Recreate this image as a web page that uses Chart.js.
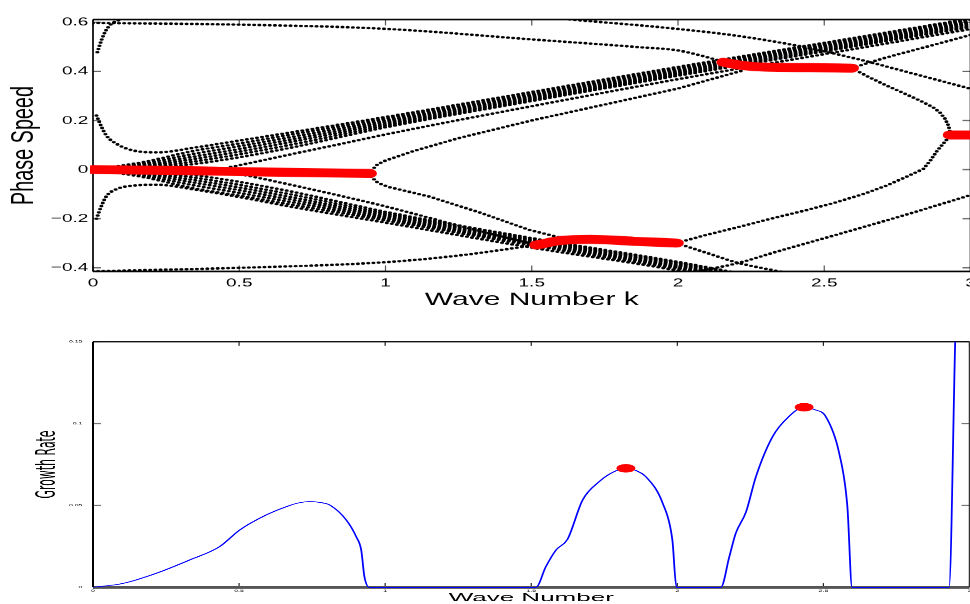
<!DOCTYPE html>
<html><head><meta charset="utf-8">
<script src="https://cdn.jsdelivr.net/npm/chart.js@4"></script>
<style>
html,body{margin:0;padding:0;background:#fff;width:970px;height:604px;overflow:hidden;position:relative}
.wrap{position:absolute;left:0;transform-origin:0 0}
#w1{top:0;transform:scaleY(0.62)}
#w2{top:320px;transform:scaleY(0.45)}
canvas{display:block}
</style></head><body>
<div id="w1" class="wrap"><canvas id="c1" width="990" height="520"></canvas></div>
<div id="w2" class="wrap"><canvas id="c2" width="990" height="631"></canvas></div>
<script>
// ---------- tick values / labels ----------
const kTicks = [0, 0.5, 1, 1.5, 2, 2.5, 3];
const kTickLabels = ['0', '0.5', '1', '1.5', '2', '2.5', '3'];
const cTicks = [-0.4, -0.2, 0, 0.2, 0.4, 0.6];
const cTickLabels = ['\u22120.4', '\u22120.2', '0', '0.2', '0.4', '0.6'];
const gTicks = [0, 0.05, 0.1, 0.15];
const gTickLabels = ['0', '0.05', '0.1', '0.15'];

// ---------- top panel: phase speed curves [k, c] ----------
const outerUp = [[0.012,0.22],[0.03,0.172],[0.046,0.138],[0.08,0.105],[0.14,0.077],[0.22,0.07],[0.35,0.09],[0.5,0.118],[0.68,0.152],[1.0,0.214],[1.5,0.316],[2.0,0.418],[2.5,0.516],[3.0,0.615]];
const bandUp1 = [[0,0],[0.17,0.03],[0.34,0.075],[0.5,0.106],[0.68,0.143],[1.0,0.207],[1.5,0.309],[2.0,0.412],[2.5,0.511],[3.0,0.61]];
const bandUp2 = [[0,0],[0.17,0.024],[0.34,0.063],[0.5,0.095],[0.68,0.133],[1.0,0.2],[1.5,0.303],[2.0,0.406],[2.5,0.505],[3.0,0.604]];
const bandUp3 = [[0,0],[0.17,0.018],[0.34,0.052],[0.5,0.084],[0.68,0.123],[1.0,0.193],[1.5,0.297],[2.0,0.4],[2.5,0.499],[3.0,0.598]];
const bandUp4 = [[0,0],[0.17,0.013],[0.34,0.042],[0.5,0.073],[0.68,0.113],[1.0,0.186],[1.5,0.291],[2.0,0.394],[2.5,0.493],[3.0,0.592]];
const bandUp5 = [[0,0],[0.17,0.008],[0.34,0.032],[0.5,0.062],[0.68,0.102],[1.0,0.179],[1.5,0.285],[2.0,0.388],[2.5,0.487],[3.0,0.586]];
const bandUp6 = [[0,0],[0.17,0.005],[0.34,0.022],[0.5,0.05],[0.68,0.09],[1.0,0.172],[1.5,0.279],[2.0,0.382],[2.5,0.481],[3.0,0.58]];
const innerUp = [[0.42,-0.002],[0.55,0.03],[0.7,0.068],[0.85,0.105],[1.0,0.143],[1.5,0.258],[2.0,0.368],[2.5,0.47],[3.0,0.572]];

const outerDn = [[0.012,-0.2],[0.03,-0.145],[0.046,-0.108],[0.08,-0.08],[0.14,-0.065],[0.22,-0.062],[0.35,-0.082],[0.5,-0.112],[0.68,-0.152],[1.0,-0.216],[1.5,-0.318],[2.0,-0.412],[2.05,-0.425]];
const bandDn1 = [[0,0],[0.17,-0.03],[0.34,-0.075],[0.5,-0.106],[0.68,-0.143],[1.0,-0.207],[1.5,-0.309],[2.0,-0.405],[2.1,-0.425]];
const bandDn2 = [[0,0],[0.17,-0.024],[0.34,-0.063],[0.5,-0.095],[0.68,-0.133],[1.0,-0.2],[1.5,-0.303],[2.0,-0.399],[2.12,-0.425]];
const bandDn3 = [[0,0],[0.17,-0.018],[0.34,-0.052],[0.5,-0.084],[0.68,-0.123],[1.0,-0.193],[1.5,-0.297],[2.0,-0.393],[2.15,-0.425]];
const bandDn4 = [[0,0],[0.17,-0.013],[0.34,-0.042],[0.5,-0.073],[0.68,-0.113],[1.0,-0.186],[1.5,-0.291],[2.0,-0.387],[2.17,-0.425]];
const bandDn5 = [[0,0],[0.17,-0.008],[0.34,-0.032],[0.5,-0.062],[0.68,-0.102],[1.0,-0.179],[1.5,-0.285],[2.0,-0.381],[2.2,-0.425]];
const bandDn6 = [[0,0],[0.17,-0.005],[0.34,-0.022],[0.5,-0.05],[0.68,-0.09],[1.0,-0.172],[1.5,-0.279],[2.0,-0.376],[2.22,-0.425]];
const innerDn = [[0.42,0.002],[0.55,-0.03],[0.7,-0.068],[0.85,-0.108],[1.0,-0.15],[1.25,-0.228],[1.516,-0.307]];

const branchUp = [[0.946,-0.016],[0.955,0.0],[0.97,0.018],[0.99,0.032],[1.015,0.043],[1.095,0.075],[1.25,0.128],[1.5,0.2],[1.75,0.265],[2.0,0.33],[2.22,0.403]];
const branchDn = [[0.946,-0.016],[0.955,-0.033],[0.97,-0.05],[0.99,-0.062],[1.015,-0.072],[1.15,-0.11],[1.32,-0.174],[1.49,-0.245],[1.607,-0.28]];
const bottomLine = [[0,-0.414],[0.5,-0.4],[1.0,-0.377],[1.25,-0.35],[1.516,-0.307]];
const topLineA = [[0,0.597],[0.5,0.59],[1.0,0.573],[1.5,0.53],[1.87,0.498],[2.0,0.485],[2.156,0.44]];
const topLineB = [[1.63,0.611],[1.97,0.576],[2.2,0.545],[2.417,0.502],[2.61,0.451],[2.8,0.392],[3.0,0.329]];
const steepTop = [[0.015,0.478],[0.03,0.53],[0.044,0.566],[0.06,0.59],[0.09,0.61]];
const curveD = [[2.594,0.413],[2.7,0.452],[2.85,0.5],[3.0,0.548]];
const curveE = [[2.594,0.413],[2.65,0.378],[2.713,0.342],[2.77,0.312],[2.827,0.281],[2.87,0.255],[2.895,0.233],[2.913,0.207],[2.924,0.18],[2.929,0.16],[2.93,0.141]];
const curveF = [[1.995,-0.299],[2.087,-0.269],[2.2,-0.236],[2.314,-0.201],[2.43,-0.168],[2.542,-0.133],[2.64,-0.097],[2.713,-0.065],[2.78,-0.03],[2.839,0.003],[2.865,0.04],[2.885,0.075],[2.905,0.103],[2.92,0.124],[2.93,0.141]];
const curveG = [[1.995,-0.299],[2.1,-0.34],[2.2,-0.378],[2.36,-0.418]];
const curveH = [[2.05,-0.418],[2.2,-0.382],[2.35,-0.33],[2.54,-0.266],[2.77,-0.187],[3.0,-0.104]];

// unstable (red) branches
const red1 = [[0,0.0],[0.3,-0.004],[0.6,-0.01],[0.946,-0.016]];
const red2 = [[1.516,-0.307],[1.6,-0.289],[1.7,-0.284],[1.85,-0.292],[1.995,-0.299]];
const red3 = [[2.156,0.437],[2.22,0.424],[2.3,0.417],[2.45,0.415],[2.594,0.413]];
const red4 = [[2.93,0.141],[3.0,0.141]];

// ---------- bottom panel: growth rate ----------
const growth = [[0,0],[0.103,0.0024],[0.217,0.0086],[0.331,0.0167],[0.433,0.0248],[0.502,0.035],[0.593,0.0442],[0.672,0.0499],[0.705,0.0516],[0.741,0.0523],[0.775,0.0519],[0.81,0.0503],[0.867,0.0411],[0.901,0.0309],[0.918,0.0228],[0.929,0.0065],[0.946,0],
 [1.516,0],[1.55,0.0126],[1.585,0.0228],[1.624,0.0293],[1.676,0.0534],[1.733,0.0646],[1.78,0.0703],[1.824,0.0727],[1.86,0.0712],[1.892,0.0676],[1.95,0.0513],[1.983,0.0289],[1.997,0],
 [2.149,0],[2.178,0.0187],[2.2,0.033],[2.235,0.046],[2.269,0.0676],[2.326,0.092],[2.38,0.104],[2.434,0.110],[2.47,0.1085],[2.508,0.1043],[2.554,0.0819],[2.582,0.0493],[2.598,0],
 [2.93,0],[2.951,0.15],[2.954,0.17]];
const growthPeaks = [[1.824,0.0727],[2.434,0.110]];

// ---------- helpers ----------
const FONT = "'Liberation Sans', Arial, Helvetica, sans-serif";
const xy = a => a.map(p => ({x: p[0], y: p[1]}));
const dotted = a => ({data: xy(a), borderColor: '#000', borderWidth: 4.2, borderDash: [0, 5.2], borderCapStyle: 'round',
  pointRadius: 0, fill: false, cubicInterpolationMode: 'monotone', order: 2});
const dottedStraight = a => Object.assign(dotted(a), {cubicInterpolationMode: 'default', tension: 0});
const redSeg = a => ({data: xy(a), borderColor: '#ff0000', borderWidth: 14.5, borderCapStyle: 'round', borderJoinStyle: 'round',
  pointRadius: 0, fill: false, cubicInterpolationMode: 'monotone', order: 0, clip: {left: 3, right: 30, top: 0, bottom: 0}});

const framePlugin = {
  id: 'frame',
  beforeDatasetsDraw(chart, args, o) {
    const {ctx, chartArea: a} = chart;
    const x = chart.scales.x, y = chart.scales.y, s = o.s;
    const seg = (x1, y1, x2, y2, c, w) => { ctx.beginPath(); ctx.strokeStyle = c; ctx.lineWidth = w; ctx.moveTo(x1, y1); ctx.lineTo(x2, y2); ctx.stroke(); };
    ctx.save();
    x.ticks.forEach(t => { const p = x.getPixelForValue(t.value);
      seg(p, a.bottom, p, a.bottom - o.xLen / s, o.xTickColor, o.tickW);
      seg(p, a.top, p, a.top + o.xLen / s, o.xTickColor, o.tickW); });
    y.ticks.forEach(t => { const p = y.getPixelForValue(t.value);
      seg(a.left, p, a.left + o.yLen, p, o.yTickColor, o.tickW / s);
      seg(a.right, p, a.right - o.yLen, p, o.yTickColor, o.tickW / s); });
    seg(a.left, a.top, a.right, a.top, o.topColor, o.topW / s);
    seg(a.left, a.bottom, a.right, a.bottom, o.bottomColor, o.bottomW / s);
    seg(a.left, a.top, a.left, a.bottom, o.leftColor, o.leftW);
    seg(a.right, a.top, a.right, a.bottom, o.rightColor, o.rightW);
    ctx.restore();
  }
};

function axisX(ticksV, ticksL, fontSize, pad, height, title, tFont, tPad) {
  return {type: 'linear', min: 0, max: 3,
    afterBuildTicks: sc => { sc.ticks = ticksV.map(v => ({value: v})); },
    afterFit: sc => { sc.height = height; },
    grid: {display: false, drawTicks: false}, border: {display: false},
    ticks: {autoSkip: false, maxRotation: 0, minRotation: 0, padding: pad, color: '#000',
      font: {family: FONT, size: fontSize}, callback: (v, i) => ticksL[i]},
    title: {display: true, text: title, color: '#000', font: {family: FONT, size: tFont}, padding: {top: 0, bottom: tPad}}};
}
function axisY(min, max, ticksV, ticksL, fontSize, pad, title, tFont, tPad, tFamily) {
  return {type: 'linear', min: min, max: max,
    afterBuildTicks: sc => { sc.ticks = ticksV.map(v => ({value: v})); },
    afterFit: sc => { sc.width = 93; },
    grid: {display: false, drawTicks: false}, border: {display: false},
    ticks: {autoSkip: false, padding: pad, color: '#000',
      font: {family: FONT, size: fontSize}, callback: (v, i) => ticksL[i]},
    title: {display: true, text: title, color: '#000', font: {family: tFamily, size: tFont}, padding: {top: tPad, bottom: 0}}};
}

// ---------- top chart ----------
const topBlack = [outerUp, bandUp1, bandUp2, bandUp3, bandUp4, bandUp5, bandUp6, innerUp,
  outerDn, bandDn1, bandDn2, bandDn3, bandDn4, bandDn5, bandDn6, innerDn,
  bottomLine, topLineA, topLineB, steepTop, curveD, curveG, curveH];
const topBlackStraight = [branchUp, branchDn, curveE, curveF];
const topRed = [red1, red2, red3, red4];

new Chart(document.getElementById('c1'), {
  type: 'line',
  data: {datasets: topBlack.map(dotted).concat(topBlackStraight.map(dottedStraight), topRed.map(redSeg))},
  options: {
    responsive: false, animation: false, events: [],
    layout: {padding: {left: 0, right: 19.5, top: 31.45, bottom: 0}},
    plugins: {legend: {display: false}, tooltip: {enabled: false},
      frame: {s: 0.62, xLen: 6, yLen: 8, tickW: 1.2, xTickColor: '#555', yTickColor: '#666',
        topColor: '#000', topW: 1.6, bottomColor: '#000', bottomW: 1.6, leftColor: '#000', leftW: 1.7, rightColor: '#000', rightW: 1.6}},
    scales: {
      x: axisX(kTicks, kTickLabels, 19, 7.1, 82.1, 'Wave Number k', 30, 18.1),
      y: axisY(-0.415, 0.611, cTicks, cTickLabels, 19, 4.7, 'Phase Speed', 32, 4.6, FONT)
    }
  },
  plugins: [framePlugin]
});

// ---------- bottom chart ----------
new Chart(document.getElementById('c2'), {
  type: 'line',
  data: {datasets: [
    {data: xy(growthPeaks), showLine: false, pointRadius: 9.5, pointStyle: 'circle', pointBackgroundColor: '#ff0000', pointBorderWidth: 0, order: 0},
    {data: xy(growth), borderColor: '#0000ff', borderWidth: 1.8, pointRadius: 0, fill: false, cubicInterpolationMode: 'monotone', order: 1,
      clip: {left: 2, right: 2, top: 0, bottom: 4}}
  ]},
  options: {
    responsive: false, animation: false, events: [],
    layout: {padding: {left: 0, right: 20.5, top: 48.2, bottom: 0}},
    plugins: {legend: {display: false}, tooltip: {enabled: false},
      frame: {s: 0.45, xLen: 4, yLen: 8, tickW: 1.2, xTickColor: '#222', yTickColor: '#777',
        topColor: '#111', topW: 1.5, bottomColor: '#555', bottomW: 2.7, leftColor: '#000', leftW: 2, rightColor: '#333', rightW: 1.5}},
    scales: {
      x: axisX(kTicks, kTickLabels, 7, 4, 37, 'Wave Number', 26, -2.4),
      y: axisY(0, 0.15, gTicks, gTickLabels, 7, 10.5, 'Growth Rate', 27, 31.6, "'Liberation Sans Narrow', 'DejaVu Sans Condensed', " + FONT)
    }
  },
  plugins: [framePlugin]
});
</script>
</body></html>
